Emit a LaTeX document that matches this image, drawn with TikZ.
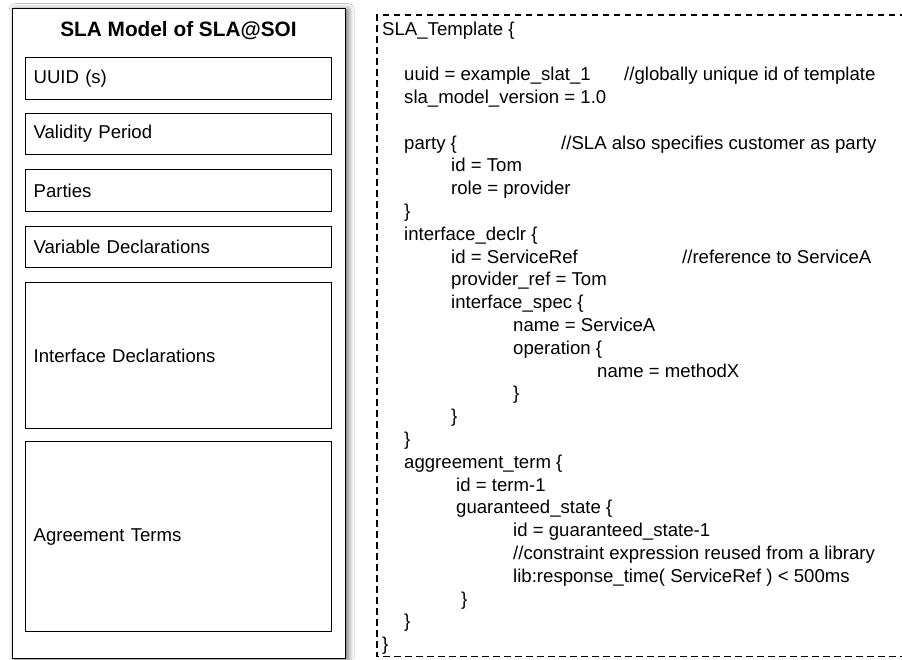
\documentclass[tikz,border=0pt]{standalone}
\usepackage{fontspec}
\setmainfont{Liberation Sans}
\usetikzlibrary{shadows.blur}

\begin{document}
\begin{tikzpicture}[
  x=1pt, y=-1pt,
  font=\fontsize{18.6}{22.8}\selectfont,
  model/.style={draw,line width=1.4pt,fill=white,anchor=north west,minimum width=333pt,minimum height=650pt,
    blur shadow={shadow xshift=2.5pt,shadow yshift=-1pt,shadow blur radius=6pt,shadow opacity=60}},
  part/.style={draw,line width=1.2pt,fill=white,anchor=north west,minimum width=306pt,text width=290pt,inner xsep=8pt,align=left},
  code/.style={anchor=base west,inner sep=0pt},
  tmpl/.style={line width=1.2pt,dash pattern=on 6.5pt off 4.5pt}
]
\useasboundingbox[fill=white] (0,0) rectangle (902,659);

% SLA model: outer frame and its parts
\node[model] (model) at (12,8) {};
\node[font=\bfseries\fontsize{20.8}{24}\selectfont,anchor=base] (title) at (178.5,36.7) {SLA Model of SLA@SOI};
\node[part,minimum height=42pt] (uuid) at (25,57) {UUID (s)};
\node[part,minimum height=41pt] (valid) at (25,113) {Validity Period};
\node[part,minimum height=42pt] (parties) at (25,169) {Parties};
\node[part,minimum height=41pt] (vars) at (25,226) {Variable Declarations};
\node[part,minimum height=146pt] (iface) at (25,282) {Interface Declarations};
\node[part,minimum height=190pt] (terms) at (25,441) {Agreement Terms};

% SLA template, dashed frame open to the right
\draw[tmpl] (906,15) -- (377,15) -- (377,656.7) -- (906,656.7);

\node[code] (l0) at (382,35) {SLA\_Template \{};
\node[code] (l2) at (404,80.6) {uuid = example\_slat\_1};
\node[code] (c2) at (624,80.6) {//globally unique id of template};
\node[code] (l3) at (404,103.4) {sla\_model\_version = 1.0};
\node[code] (l5) at (404,149) {party \{};
\node[code] (c5) at (561,149) {//SLA also specifies customer as party};
\node[code] (l6) at (451,171.8) {id = Tom};
\node[code] (l7) at (451,194.6) {role = provider};
\node[code] (l8) at (404,217.4) {\}};
\node[code] (l9) at (404,240.2) {interface\_declr \{};
\node[code] (l10) at (451,263) {id = ServiceRef};
\node[code] (c10) at (682,263) {//reference to ServiceA};
\node[code] (l11) at (451,285.8) {provider\_ref = Tom};
\node[code] (l12) at (451,308.6) {interface\_spec \{};
\node[code] (l13) at (513,331.4) {name = ServiceA};
\node[code] (l14) at (513,354.2) {operation \{};
\node[code] (l15) at (597,377) {name = methodX};
\node[code] (l16) at (513,399.8) {\}};
\node[code] (l17) at (451,422.6) {\}};
\node[code] (l18) at (404,445.4) {\}};
\node[code] (l19) at (404,468.2) {aggreement\_term \{};
\node[code] (l20) at (456,491) {id = term-1};
\node[code] (l21) at (456,513.8) {guaranteed\_state \{};
\node[code] (l22) at (513,536.6) {id = guaranteed\_state-1};
\node[code] (l23) at (513,559.4) {//constraint expression reused from a library};
\node[code] (l24) at (513,582.2) {lib:response\_time( ServiceRef ) < 500ms};
\node[code] (l25) at (461,605) {\}};
\node[code] (l26) at (404,627.8) {\}};
\node[code] (l27) at (382,650.6) {\}};
\end{tikzpicture}
\end{document}
